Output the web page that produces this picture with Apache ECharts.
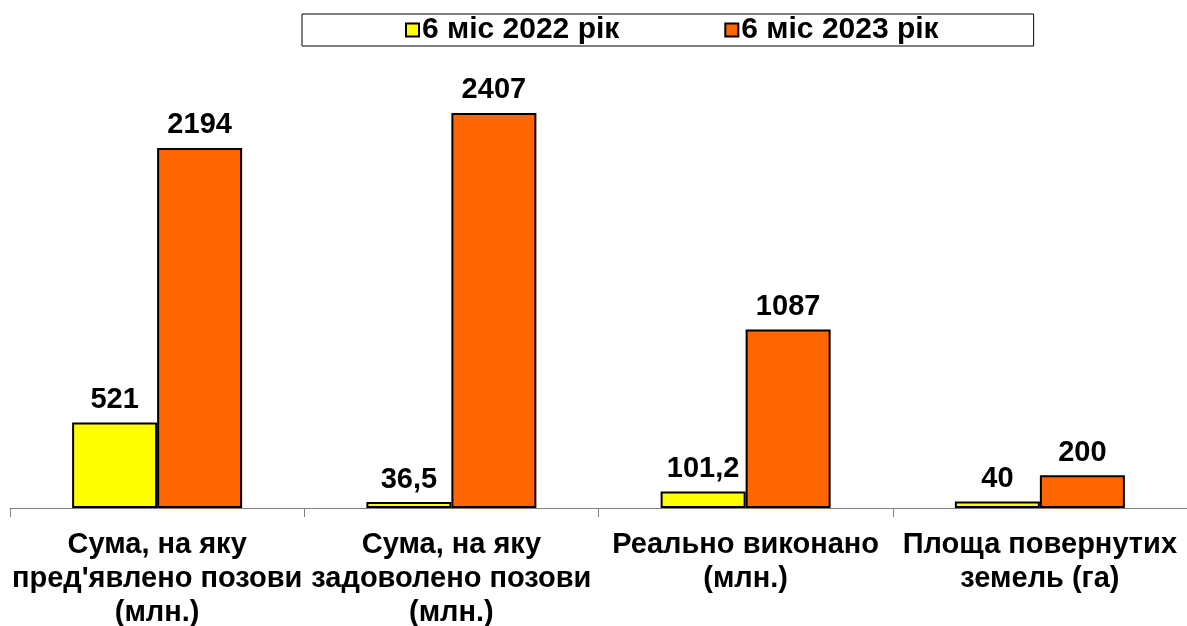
<!DOCTYPE html>
<html><head><meta charset="utf-8">
<script src="https://cdn.jsdelivr.net/npm/echarts@6/dist/echarts.min.js"></script>
<style>html,body{margin:0;padding:0;background:#fff}#c{width:1187px;height:626px}</style>
</head><body><div id="c"></div>
<script>
const categories = ["Сума, на яку\nпред'явлено позови\n(млн.)", "Сума, на яку\nзадоволено позови\n(млн.)", "Реально виконано\n(млн.)", "Площа повернутих\nземель (га)"];
const seriesNames = ["6 міс 2022 рік", "6 міс 2023 рік"];
const values2022 = [521, 36.5, 101.2, 40];
const values2023 = [2194, 2407, 1087, 200];
const colors = ["#FFFF00", "#FF6600"];

const FONT = '"Liberation Sans", Arial, sans-serif';
const chart = echarts.init(document.getElementById('c'));
const lbl = {
  show: true, position: 'top', distance: 8, color: '#000', fontWeight: 'bold',
  fontSize: 29, fontFamily: FONT,
  formatter: p => String(p.value).replace('.', ',')
};
chart.setOption({
  animation: false,
  textStyle: { fontFamily: FONT },
  legend: {
    left: 302, top: 14, padding: [1, 95, 1, 103], itemGap: 105,
    itemWidth: 13, itemHeight: 13, borderColor: '#000', borderWidth: 1,
    textStyle: { fontSize: 30, fontWeight: 'bold', color: '#000', fontFamily: FONT, padding: [1, 0, 0, -2] },
    data: seriesNames.map(n => ({ name: n, icon: 'rect' }))
  },
  grid: { left: 10, right: 0, top: 48.5, bottom: 118, containLabel: false, outerBoundsMode: 'none' },
  xAxis: {
    type: 'category', data: categories,
    axisLine: { lineStyle: { color: '#808080', width: 1 } },
    axisTick: { show: true, length: 9, lineStyle: { color: '#808080' } },
    axisLabel: { interval: 0, margin: 20, color: '#000', fontWeight: 'bold', fontSize: 29, lineHeight: 34, fontFamily: FONT, verticalAlign: 'top' }
  },
  yAxis: { type: 'value', min: 0, max: 2800, show: false, splitLine: { show: false } },
  series: [
    { name: seriesNames[0], type: 'bar', data: values2022, barWidth: 85, barGap: '0%',
      itemStyle: { color: colors[0], borderColor: '#000', borderWidth: 2 }, label: lbl },
    { name: seriesNames[1], type: 'bar', data: values2023, barWidth: 85, barGap: '0%',
      itemStyle: { color: colors[1], borderColor: '#000', borderWidth: 2 }, label: lbl }
  ]
});
</script></body></html>
